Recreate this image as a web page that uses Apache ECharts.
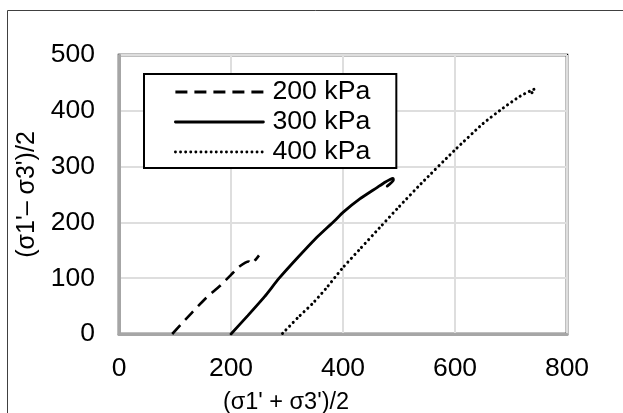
<!DOCTYPE html>
<html>
<head>
<meta charset="utf-8">
<script src="https://cdn.jsdelivr.net/npm/echarts@6/dist/echarts.min.js"></script>
<style>
html,body{margin:0;padding:0;background:#fff;}
#chart{width:623px;height:413px;}
</style>
</head>
<body>
<div id="chart"></div>
<script>
// ---- data ----
var seriesNames = ['200 kPa', '300 kPa', '400 kPa'];

var p200X = [95, 130, 155, 180, 200, 215, 232, 237, 242, 250];
var p200Y = [0, 38, 64, 86, 106, 121, 130, 126, 131, 141];

var p300X = [200, 230, 260, 286, 320, 350, 385, 400, 430, 460, 475, 484, 489, 490, 479];
var p300Y = [0, 33, 67, 100, 138, 170, 203, 218, 242, 262, 272, 277, 279, 276, 265];

var p400X = [292, 320, 346, 370, 399, 430, 465, 500, 540, 600, 650, 686, 716, 735, 742, 736];
var p400Y = [1, 30, 55, 82, 118, 152, 190, 228, 270, 330, 377, 405, 426, 436, 439, 430];

var xTicks = {min: 0, max: 800, interval: 200};
var yTicks = {min: 0, max: 500, interval: 100};

var xTitle = "(\u03c31' + \u03c33')/2";
var yTitle = "(\u03c31'\u2013 \u03c33')/2";

function zip(xs, ys) { return xs.map(function (x, i) { return [x, ys[i]]; }); }

var FONT = 'Liberation Sans, Arial, sans-serif';
var chart = echarts.init(document.getElementById('chart'), null, {renderer: 'canvas'});

var option = {
  backgroundColor: '#fff',
  animation: false,
  textStyle: {fontFamily: FONT, color: '#000'},
  graphic: [{
    type: 'rect',
    silent: true,
    shape: {x: 7.5, y: 10.5, width: 700, height: 500},
    style: {fill: 'none', stroke: '#404040', lineWidth: 1},
    z: 0
  }],
  grid: {
    left: 119, top: 55, right: 56, bottom: 79,
    outerBoundsMode: 'none', containLabel: false,
    show: true, borderColor: '#000', borderWidth: 2.5, backgroundColor: 'transparent'
  },
  legend: {
    orient: 'vertical',
    left: 144, top: 74,
    itemWidth: 88, itemHeight: 14, itemGap: 0,
    padding: [3, 26, 1, 30],
    borderColor: '#000', borderWidth: 2,
    backgroundColor: '#fff',
    itemStyle: {opacity: 0},
    lineStyle: {width: 2.8},
    textStyle: {fontSize: 26.7, lineHeight: 30, fontFamily: FONT, color: '#000', padding: [0, 0, 0, 4]},
    data: seriesNames
  },
  xAxis: {
    type: 'value',
    min: xTicks.min, max: xTicks.max, interval: xTicks.interval,
    name: xTitle, nameLocation: 'middle', nameGap: 57,
    nameTextStyle: {fontSize: 23.5, fontFamily: FONT, color: '#000', padding: [0, 114, 0, 0]},
    axisLine: {show: true, lineStyle: {color: '#a6a6a6', width: 3}},
    axisTick: {show: false},
    axisLabel: {fontSize: 26.5, fontFamily: FONT, color: '#000', margin: 21},
    splitLine: {show: true, lineStyle: {color: '#dedede', width: 2}}
  },
  yAxis: {
    type: 'value',
    min: yTicks.min, max: yTicks.max, interval: yTicks.interval,
    name: yTitle, nameLocation: 'middle', nameGap: 77, nameRotate: 90,
    nameTextStyle: {fontSize: 25, fontFamily: FONT, color: '#000'},
    axisLine: {show: true, lineStyle: {color: '#a6a6a6', width: 3}},
    axisTick: {show: false},
    axisLabel: {fontSize: 26.5, fontFamily: FONT, color: '#000', margin: 24},
    splitLine: {show: true, lineStyle: {color: '#dedede', width: 2}}
  },
  series: [
    {
      name: seriesNames[0], type: 'line', symbol: 'none', smooth: 0.2,
      data: zip(p200X, p200Y),
      lineStyle: {color: '#000', width: 2.6, type: [12, 7]},
      itemStyle: {color: '#000'}
    },
    {
      name: seriesNames[1], type: 'line', symbol: 'none', smooth: 0.2,
      data: zip(p300X, p300Y),
      lineStyle: {color: '#000', width: 2.8, type: 'solid', cap: 'round'},
      itemStyle: {color: '#000'}
    },
    {
      name: seriesNames[2], type: 'line', symbol: 'none', smooth: 0.2,
      data: zip(p400X, p400Y),
      lineStyle: {color: '#000', width: 3, type: [0.1, 5], cap: 'round'},
      itemStyle: {color: '#000'}
    }
  ]
};
chart.setOption(option);
</script>
</body>
</html>
